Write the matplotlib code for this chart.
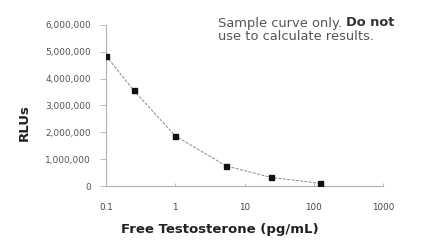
import matplotlib
matplotlib.use("Agg")
import matplotlib.pyplot as plt
from matplotlib.ticker import FuncFormatter, FixedLocator

plt.rcParams['font.family'] = ['DejaVu Sans']

concentration = [0.1, 0.25, 1.0, 5.4, 24, 123]
rlus = [4850000, 3570000, 1870000, 750000, 320000, 100000]
x_ticks = [0.1, 1, 10, 100, 1000]
x_tick_labels = ["0.1", "1", "10", "100", "1000"]
y_ticks = [0, 1000000, 2000000, 3000000, 4000000, 5000000, 6000000]

W, H = 423, 249
fig = plt.figure(figsize=(W / 100, H / 100), dpi=100)
ax = fig.add_axes([106 / W, 1 - 186 / H, (383 - 106) / W, (186 - 25) / H])

ax.plot(concentration, rlus, linestyle=(0, (3, 1.5)), color='#888888', linewidth=0.7, zorder=2)
ax.plot(concentration, rlus, linestyle='none', marker='s', markersize=3.6, color='#111111', zorder=3)

ax.set_xscale('log')
ax.set_xlim(0.1, 1000)
ax.set_ylim(0, 6000000)
ax.xaxis.set_major_locator(FixedLocator(x_ticks))
ax.xaxis.set_minor_locator(FixedLocator([]))
ax.set_xticklabels(x_tick_labels)
ax.set_yticks(y_ticks)
ax.yaxis.set_major_formatter(FuncFormatter(lambda v, p: f"{int(v):,}"))

for s in ['top', 'right']:
    ax.spines[s].set_visible(False)
for s in ['left', 'bottom']:
    ax.spines[s].set_color('#b0b0b0')
    ax.spines[s].set_linewidth(0.8)

ax.tick_params(axis='y', direction='out', length=4, width=0.6, color='#b0b0b0',
               labelsize=6.5, labelcolor='#555555', pad=6.8)
ax.tick_params(axis='x', direction='in', length=2, width=0.6, color='#b0b0b0',
               labelsize=6.3, labelcolor='#444444', pad=12.5)

fig.text(24 / W, 1 - 123 / H, 'RLUs', rotation=90, fontsize=9.5, fontweight='bold',
         color='#222222', ha='center', va='center')
fig.text(220 / W, 1 - 229 / H, 'Free Testosterone (pg/mL)', fontsize=9.5, fontweight='bold',
         color='#222222', ha='center', va='center')

fs = 9.4
t1 = fig.text(218 / W, 1 - 23 / H, 'Sample curve only. ', fontsize=fs, color='#555555', va='center', ha='left')
fig.canvas.draw()
bb = t1.get_window_extent()
fig.text(bb.x1 / fig.bbox.width, 1 - 23 / H, 'Do not', fontsize=fs, fontweight='bold',
         color='#333333', va='center', ha='left')
fig.text(218 / W, 1 - 37 / H, 'use to calculate results.', fontsize=fs, color='#555555', va='center', ha='left')

fig.savefig('out.png', dpi=100)
